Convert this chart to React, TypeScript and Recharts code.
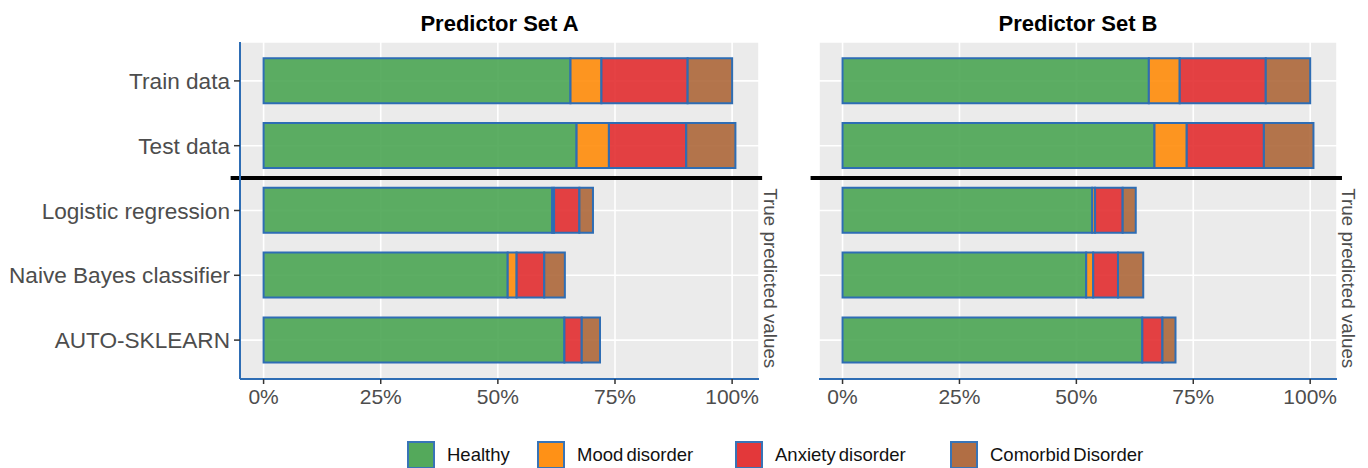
import {
  BarChart,
  Bar,
  XAxis,
  YAxis,
  CartesianGrid,
  ReferenceLine,
  ReferenceArea
} from "recharts";

// rows, top to bottom
const categories = [
  "Train data",
  "Test data",
  "Logistic regression",
  "Naive Bayes classifier",
  "AUTO-SKLEARN"
];

const seriesKeys = ["healthy", "mood", "anxiety", "comorbid"];
const seriesNames = ["Healthy", "Mood disorder", "Anxiety disorder", "Comorbid Disorder"];
const seriesColors = ["#4ba553", "#ff8c0a", "#e22e30", "#ad673a"];

// Predictor Set A (percent)
const healthyA = [65.5, 66.8, 61.6, 52.1, 64.2];
const moodA = [6.6, 6.9, 0.4, 1.9, 0];
const anxietyA = [18.4, 16.5, 5.4, 5.9, 3.7];
const comorbidA = [9.5, 10.5, 2.9, 4.4, 3.9];

// Predictor Set B (percent)
const healthyB = [65.5, 66.7, 53.4, 52.1, 64.1];
const moodB = [6.6, 6.9, 0.6, 1.5, 0];
const anxietyB = [18.4, 16.5, 5.9, 5.3, 4.3];
const comorbidB = [9.5, 10.6, 2.8, 5.4, 2.8];

const xTicks = [0, 25, 50, 75, 100];

const BLUE = "#2e6db4";
const FONT = "'Liberation Sans', Arial, sans-serif";

function buildRows(h: number[], m: number[], a: number[], c: number[]) {
  return categories.map((name, i) => ({
    name,
    healthy: h[i],
    mood: m[i],
    anxiety: a[i],
    comorbid: c[i]
  }));
}

const dataA = buildRows(healthyA, moodA, anxietyA, comorbidA);
const dataB = buildRows(healthyB, moodB, anxietyB, comorbidB);

function StripLabel(props: any) {
  const vb = props.viewBox || {};
  const cx = vb.x + vb.width + 11;
  const cy = vb.y + vb.height / 2 + 3;
  return (
    <text
      x={cx}
      y={cy}
      transform={`rotate(90 ${cx} ${cy})`}
      textAnchor="middle"
      dominantBaseline="central"
      fill="#4d4d4d"
      fontSize={18.8}
    >
      True predicted values
    </text>
  );
}

function Panel({
  data,
  showY,
  left,
  width,
  marginLeft,
  sepFrom,
  sepTo
}: {
  data: any[];
  showY: boolean;
  left: number;
  width: number;
  marginLeft: number;
  sepFrom: number;
  sepTo: number;
}) {
  return (
    <div style={{ position: "absolute", left, top: 0 }}>
      <BarChart
        width={width}
        height={420}
        data={data}
        layout="vertical"
        margin={{ top: 42, right: 31, left: marginLeft, bottom: 0 }}
        barCategoryGap="15%"
      >
        <CartesianGrid fill="#ebebeb" stroke="#ffffff" strokeWidth={1.6} />
        <XAxis
          type="number"
          domain={[-5.035, 105.735]}
          allowDataOverflow
          ticks={xTicks}
          tickFormatter={(v) => `${v}%`}
          height={41}
          tickSize={5}
          tickMargin={5}
          tick={{ fill: "#4d4d4d", fontSize: 21 }}
          tickLine={{ stroke: "#333333", strokeWidth: 1.5 }}
          axisLine={{ stroke: BLUE, strokeWidth: 2 }}
        />
        <YAxis
          type="category"
          dataKey="name"
          hide={!showY}
          width={240}
          padding={{ top: 6.5, bottom: 6.5 }}
          tickSize={6}
          tickMargin={4}
          tick={{ fill: "#4d4d4d", fontSize: 22.6 }}
          tickLine={{ stroke: "#333333", strokeWidth: 1.5 }}
          axisLine={{ stroke: BLUE, strokeWidth: 2 }}
        />
        {seriesKeys.map((k, i) => (
          <Bar
            key={k}
            dataKey={k}
            name={seriesNames[i]}
            stackId="s"
            fill={seriesColors[i]}
            fillOpacity={0.9}
            stroke={BLUE}
            strokeWidth={2}
            isAnimationActive={false}
          />
        ))}
        <ReferenceArea
          y1={categories[2]}
          y2={categories[4]}
          fill="none"
          fillOpacity={0}
          stroke="none"
          label={(p: any) => <StripLabel {...p} />}
        />
        <ReferenceLine
          segment={[
            { x: sepFrom, y: categories[2] },
            { x: sepTo, y: categories[2] }
          ]}
          position="start"
          ifOverflow="visible"
          stroke="#000000"
          strokeWidth={4}
        />
      </BarChart>
    </div>
  );
}

const legendLeft = [407, 537, 735, 950];

export default function App() {
  return (
    <div
      style={{
        position: "absolute",
        left: 0,
        top: 0,
        width: 1368,
        height: 468,
        background: "#ffffff",
        fontFamily: FONT,
        overflow: "hidden"
      }}
    >
      <div
        style={{
          position: "absolute",
          left: 240,
          width: 519,
          top: 13,
          textAlign: "center",
          fontWeight: "bold",
          fontSize: 22,
          lineHeight: "22px",
          color: "#000"
        }}
      >
        Predictor Set A
      </div>
      <div
        style={{
          position: "absolute",
          left: 819,
          width: 518,
          top: 13,
          textAlign: "center",
          fontWeight: "bold",
          fontSize: 22,
          lineHeight: "22px",
          color: "#000"
        }}
      >
        Predictor Set B
      </div>

      <Panel data={dataA} showY left={0} width={790} marginLeft={0} sepFrom={-7.04} sepTo={106.4} />
      <Panel data={dataB} showY={false} left={800} width={568} marginLeft={19} sepFrom={-6.84} sepTo={106.8} />

      {seriesNames.map((n, i) => (
        <div
          key={n}
          style={{
            position: "absolute",
            left: legendLeft[i],
            top: 441,
            display: "flex",
            alignItems: "center",
            height: 28
          }}
        >
          <div
            style={{
              width: 24,
              height: 24,
              border: `2px solid ${BLUE}`,
              background: seriesColors[i],
              opacity: 0.95
            }}
          />
          <span style={{ marginLeft: 12, fontSize: 18.5, color: "#111", wordSpacing: -2 }}>{n}</span>
        </div>
      ))}
    </div>
  );
}
